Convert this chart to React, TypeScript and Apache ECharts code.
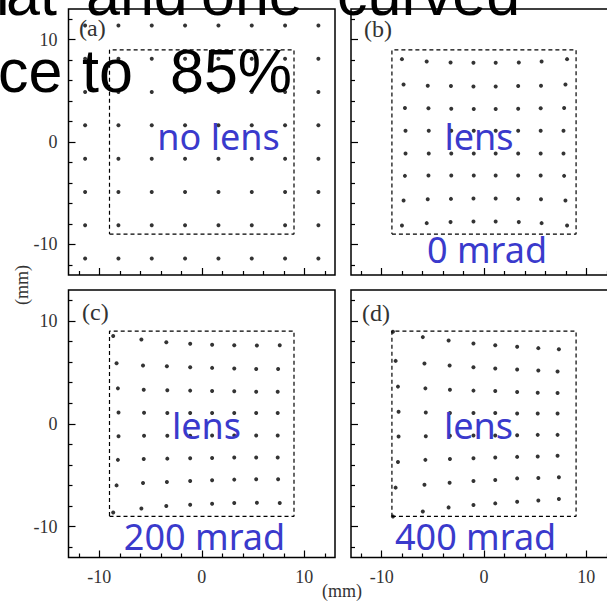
import React, { useEffect, useRef } from "react";
import * as echarts from "echarts";

// ---- data ----
const AXIS_MIN = -13;
const AXIS_MAX = 13;
const majorTicks = [-10, 0, 10];
const minorTicks = [-12, -8, -6, -4, -2, 2, 4, 6, 8, 12];

// (a) no lens: regular grid of spots (mm)
const noLensCoords = [-11.38, -8.13, -4.88, -1.63, 1.63, 4.88, 8.13, 11.38];

// dashed aperture square (mm)
const aperture = [[-9, -9], [9, -9], [9, 9], [-9, 9], [-9, -9]];

const panelLetters = ["(a)", "(b)", "(c)", "(d)"];
const panelCaptions = ["no lens", "lens", "lens", "lens"];
const angleCaptions = ["", "0 mrad", "200 mrad", "400 mrad"];

// (b) lens, 0 mrad
const lens0: number[][] = [
  [-8.02, 8.10], [-5.60, 7.87], [-3.27, 7.78], [-1.03, 7.74], [1.14, 7.74], [3.40, 7.78], [5.63, 7.87], [8.12, 8.10],
  [-7.86, 5.63], [-5.50, 5.50], [-3.23, 5.47], [-1.03, 5.43], [1.14, 5.43], [3.34, 5.47], [5.57, 5.50], [7.96, 5.63],
  [-7.73, 3.32], [-5.43, 3.29], [-3.20, 3.26], [-1.00, 3.22], [1.14, 3.22], [3.34, 3.26], [5.54, 3.29], [7.83, 3.32],
  [-7.67, 1.09], [-5.40, 1.09], [-3.20, 1.09], [-1.00, 1.09], [1.14, 1.09], [3.34, 1.09], [5.54, 1.09], [7.77, 1.09],
  [-7.67, -1.13], [-5.40, -1.13], [-3.20, -1.13], [-1.00, -1.13], [1.14, -1.13], [3.34, -1.13], [5.54, -1.13], [7.77, -1.13],
  [-7.73, -3.31], [-5.43, -3.28], [-3.20, -3.28], [-1.00, -3.28], [1.14, -3.28], [3.34, -3.28], [5.54, -3.28], [7.83, -3.31],
  [-7.86, -5.72], [-5.50, -5.59], [-3.23, -5.56], [-1.03, -5.52], [1.14, -5.52], [3.34, -5.56], [5.57, -5.59], [7.96, -5.72],
  [-8.02, -8.16], [-5.60, -7.93], [-3.27, -7.83], [-1.03, -7.77], [1.14, -7.77], [3.40, -7.83], [5.63, -7.93], [8.12, -8.16],
];

// (c) lens, 200 mrad
const lens200: number[][] = [
  [-8.64, 8.52], [-5.89, 8.19], [-3.46, 7.93], [-1.13, 7.77], [1.01, 7.67], [3.17, 7.64], [5.38, 7.61], [7.61, 7.64],
  [-8.31, 5.88], [-5.73, 5.66], [-3.40, 5.59], [-1.13, 5.49], [1.01, 5.43], [3.17, 5.36], [5.31, 5.33], [7.45, 5.33],
  [-8.18, 3.44], [-5.66, 3.31], [-3.36, 3.25], [-1.13, 3.22], [1.01, 3.18], [3.17, 3.15], [5.31, 3.12], [7.41, 3.12],
  [-8.12, 1.10], [-5.63, 1.07], [-3.36, 1.04], [-1.13, 1.04], [1.01, 1.04], [3.17, 1.04], [5.31, 1.04], [7.41, 1.04],
  [-8.12, -1.21], [-5.63, -1.17], [-3.36, -1.17], [-1.13, -1.17], [1.01, -1.14], [3.17, -1.14], [5.31, -1.14], [7.41, -1.14],
  [-8.18, -3.51], [-5.66, -3.42], [-3.36, -3.39], [-1.13, -3.35], [1.01, -3.32], [3.17, -3.29], [5.31, -3.29], [7.41, -3.29],
  [-8.31, -5.99], [-5.73, -5.76], [-3.40, -5.66], [-1.13, -5.56], [1.01, -5.50], [3.17, -5.43], [5.31, -5.40], [7.45, -5.40],
  [-8.64, -8.62], [-5.89, -8.23], [-3.46, -8.00], [-1.13, -7.87], [1.01, -7.78], [3.17, -7.71], [5.38, -7.68], [7.61, -7.71],
];

// (d) lens, 400 mrad
const lens400: number[][] = [
  [-8.90, 8.94], [-5.98, 8.42], [-3.46, 8.09], [-1.03, 7.80], [1.10, 7.64], [3.24, 7.48], [5.31, 7.35], [7.32, 7.25],
  [-8.64, 6.11], [-5.82, 5.85], [-3.36, 5.66], [-1.03, 5.49], [1.10, 5.36], [3.24, 5.27], [5.31, 5.17], [7.19, 5.07],
  [-8.41, 3.61], [-5.73, 3.44], [-3.33, 3.31], [-1.03, 3.22], [1.10, 3.18], [3.24, 3.09], [5.25, 3.02], [7.19, 2.99],
  [-8.35, 1.17], [-5.69, 1.10], [-3.33, 1.04], [-1.03, 1.04], [1.10, 1.04], [3.24, 1.00], [5.25, 1.00], [7.19, 1.00],
  [-8.35, -1.24], [-5.69, -1.21], [-3.33, -1.17], [-1.03, -1.14], [1.10, -1.14], [3.24, -1.11], [5.25, -1.08], [7.19, -1.08],
  [-8.41, -3.71], [-5.73, -3.51], [-3.33, -3.42], [-1.03, -3.35], [1.10, -3.29], [3.24, -3.22], [5.25, -3.19], [7.19, -3.12],
  [-8.64, -6.21], [-5.82, -5.92], [-3.36, -5.73], [-1.03, -5.56], [1.10, -5.46], [3.24, -5.31], [5.31, -5.27], [7.32, -5.20],
  [-8.90, -9.01], [-5.98, -8.52], [-3.46, -8.13], [-1.03, -7.90], [1.10, -7.74], [3.24, -7.58], [5.31, -7.45], [7.32, -7.32],
];

const noLens: number[][] = [];
noLensCoords.forEach((y) => noLensCoords.forEach((x) => noLens.push([x, y])));
const panelData = [noLens, lens0, lens200, lens400];

// overlay text fragments (cropped sentence)
const overlayWords = [
  { text: "l", x: -4, line: 0 },
  { text: "at", x: 6, line: 0 },
  { text: "and", x: 86, line: 0 },
  { text: "one", x: 201, line: 0 },
  { text: "curved", x: 337, line: 0 },
  { text: "ce", x: -2, line: 1 },
  { text: "to", x: 82, line: 1 },
  { text: "85%", x: 170, line: 1 },
];

export default function App() {
  const ref = useRef<HTMLDivElement>(null);
  useEffect(() => {
    if (!ref.current) return;
    const chart = echarts.init(ref.current, undefined, { renderer: "svg" });
    const serif = "'Liberation Serif', 'Times New Roman', serif";
    const sans = "'Noto Sans', sans-serif";
    const grids = [
      { left: 68.5, top: 9, width: 266.5, height: 266 },
      { left: 351, top: 9, width: 266, height: 266 },
      { left: 68.5, top: 290, width: 266.5, height: 267.5 },
      { left: 351, top: 290, width: 266, height: 267.5 },
    ];
    const xAxis: any[] = [];
    const yAxis: any[] = [];
    const series: any[] = [];
    const tickStyle = { color: "#000", width: 1.2 };
    grids.forEach((_, i) => {
      const showX = i >= 2;
      const showY = i % 2 === 0;
      const base = {
        gridIndex: i,
        type: "value",
        min: AXIS_MIN,
        max: AXIS_MAX,
        axisLine: { show: false, onZero: false },
        splitLine: { show: false },
      };
      xAxis.push({
        ...base,
        position: "bottom",
        axisTick: { show: true, inside: true, length: 7, customValues: majorTicks, lineStyle: tickStyle },
        axisLabel: { show: showX, customValues: majorTicks, fontFamily: serif, fontSize: 18, color: "#333", margin: 10 },
      });
      xAxis.push({
        ...base,
        position: "bottom",
        axisTick: { show: true, inside: true, length: 4, customValues: minorTicks, lineStyle: tickStyle },
        axisLabel: { show: false },
      });
      yAxis.push({
        ...base,
        position: "left",
        axisTick: { show: true, inside: true, length: 7, customValues: majorTicks, lineStyle: tickStyle },
        axisLabel: { show: showY, customValues: majorTicks, fontFamily: serif, fontSize: 18, color: "#333", margin: 11 },
      });
      yAxis.push({
        ...base,
        position: "left",
        axisTick: { show: true, inside: true, length: 4, customValues: minorTicks, lineStyle: tickStyle },
        axisLabel: { show: false },
      });
      series.push({
        type: "line",
        xAxisIndex: 2 * i,
        yAxisIndex: 2 * i,
        data: aperture,
        symbol: "none",
        silent: true,
        lineStyle: { color: "#000", width: 1.2, type: [4, 3] },
        z: 2,
      });
      series.push({
        type: "scatter",
        xAxisIndex: 2 * i,
        yAxisIndex: 2 * i,
        data: panelData[i],
        symbolSize: 4,
        itemStyle: { color: "#000" },
        z: 3,
      });
    });

    const letterPos = [
      [79, 28], [364, 28.5], [82, 312], [362, 313],
    ];
    const captionPos = [
      [218.5, 136.7], [479, 136.7], [206.5, 425], [478.5, 425],
    ];
    const anglePos = [
      [0, 0], [487, 249.3], [204.5, 536], [475.6, 536],
    ];
    const graphic: any[] = [];
    panelLetters.forEach((t, i) => {
      graphic.push({
        type: "text", x: letterPos[i][0], y: letterPos[i][1], z: 10,
        style: { text: t, fontFamily: serif, fontSize: 24, fill: "#333", align: "left", verticalAlign: "middle" },
      });
    });
    panelCaptions.forEach((t, i) => {
      graphic.push({
        type: "text", x: captionPos[i][0], y: captionPos[i][1], z: 10,
        style: { text: t, fontFamily: sans, fontSize: 36, fill: "#3a3acc", align: "center", verticalAlign: "middle" },
      });
      if (angleCaptions[i]) {
        graphic.push({
          type: "text", x: anglePos[i][0], y: anglePos[i][1], z: 10,
          style: { text: angleCaptions[i], fontFamily: sans, fontSize: 36, fill: "#3a3acc", align: "center", verticalAlign: "middle" },
        });
      }
    });
    graphic.push({
      type: "text", x: 22, y: 285, rotation: Math.PI / 2, z: 10,
      style: { text: "(mm)", fontFamily: serif, fontSize: 18, fill: "#333", align: "center", verticalAlign: "middle" },
    });
    graphic.push({
      type: "text", x: 342, y: 591, z: 10,
      style: { text: "(mm)", fontFamily: serif, fontSize: 18, fill: "#333", align: "center", verticalAlign: "middle" },
    });
    const lineY = [-6.5, 70.9];
    overlayWords.forEach((w) => {
      graphic.push({
        type: "text", x: w.x, y: lineY[w.line], z: 20,
        style: { text: w.text, fontFamily: "'Liberation Sans', Arial, sans-serif", fontSize: 61, fill: "#000", align: "left", verticalAlign: "middle" },
      });
    });

    chart.setOption({
      animation: false,
      backgroundColor: "#fff",
      grid: grids.map((g) => ({
        ...g,
        show: true,
        borderColor: "#000",
        borderWidth: 1.5,
        backgroundColor: "transparent",
        containLabel: false,
        outerBoundsMode: "none",
      })),
      xAxis,
      yAxis,
      series,
      graphic,
    });
    return () => chart.dispose();
  }, []);
  return (
    <div
      ref={ref}
      style={{ position: "fixed", left: 0, top: 0, width: 607, height: 601 }}
    />
  );
}
